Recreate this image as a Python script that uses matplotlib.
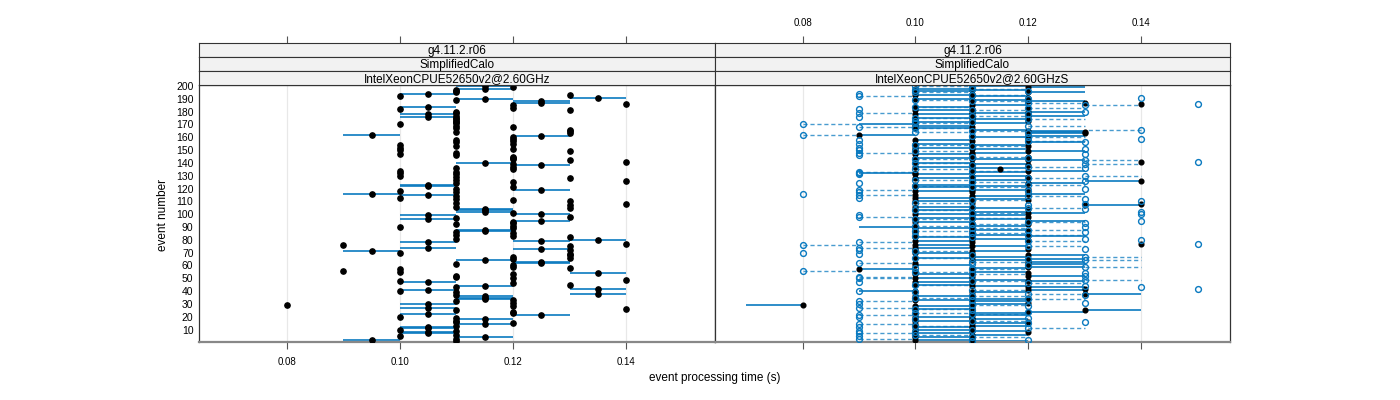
import numpy as np
import matplotlib
matplotlib.use("Agg")
from matplotlib import pyplot as plt

plt.rcParams['font.family'] = ['Liberation Sans', 'DejaVu Sans']

# strip labels (lattice style, outer to inner)
strip_top = ["g4.11.2.r06", "g4.11.2.r06"]
strip_mid = ["SimplifiedCalo", "SimplifiedCalo"]
strip_low = ["IntelXeonCPUE52650v2@2.60GHz", "IntelXeonCPUE52650v2@2.60GHzS"]

x_ticks = [0.08, 0.10, 0.12, 0.14]
y_ticks = list(range(10, 201, 10))

events = np.arange(1, 201)

# left panel: min / max event time per event (ms), events 1..200
left_lo = [110, 90, 110, 110, 100, 110, 100, 100, 110, 100,
           100, 100, 110, 110, 120, 110, 110, 110, 110, 100,
           120, 100, 120, 120, 110, 140, 100, 120, 80, 100,
           120, 110, 120, 110, 110, 110, 110, 130, 110, 100,
           100, 130, 110, 110, 130, 120, 100, 100, 140, 120,
           110, 110, 120, 130, 100, 90, 100, 130, 120, 120,
           110, 120, 120, 110, 120, 130, 120, 130, 130, 100,
           90, 130, 120, 100, 130, 90, 140, 100, 120, 130,
           110, 130, 120, 110, 120, 110, 110, 110, 120, 100,
           120, 110, 120, 120, 120, 100, 110, 130, 100, 120,
           120, 110, 110, 110, 130, 110, 130, 140, 110, 130,
           120, 110, 100, 110, 100, 90, 110, 100, 120, 110,
           120, 100, 100, 110, 120, 140, 110, 130, 110, 100,
           110, 100, 110, 100, 120, 110, 120, 120, 120, 110,
           140, 130, 120, 120, 120, 110, 100, 110, 130, 100,
           120, 100, 110, 100, 120, 110, 120, 110, 120, 120,
           120, 90, 130, 110, 130, 130, 110, 120, 110, 100,
           110, 110, 110, 110, 110, 100, 110, 100, 110, 110,
           130, 100, 120, 100, 120, 140, 120, 120, 110, 110,
           130, 100, 130, 100, 110, 110, 110, 110, 120, 110]
left_hi = [110, 100, 110, 120, 100, 110, 110, 110, 110, 100,
           110, 110, 110, 120, 120, 110, 110, 120, 110, 100,
           130, 110, 120, 120, 110, 140, 110, 120, 80, 110,
           120, 110, 120, 120, 120, 120, 110, 140, 110, 100,
           110, 140, 110, 120, 130, 120, 110, 100, 140, 120,
           110, 110, 120, 140, 100, 90, 100, 130, 120, 120,
           110, 130, 130, 120, 120, 130, 120, 130, 130, 100,
           100, 130, 130, 110, 130, 90, 140, 110, 130, 140,
           110, 130, 120, 110, 120, 110, 120, 120, 120, 100,
           120, 110, 120, 120, 130, 110, 110, 130, 110, 130,
           120, 120, 120, 120, 130, 110, 130, 140, 110, 130,
           120, 110, 100, 110, 110, 100, 110, 100, 130, 110,
           120, 110, 110, 110, 120, 140, 110, 130, 110, 100,
           110, 100, 110, 100, 120, 110, 120, 130, 120, 120,
           140, 130, 120, 120, 120, 110, 100, 110, 130, 100,
           120, 100, 110, 100, 120, 110, 120, 110, 120, 120,
           130, 100, 130, 110, 130, 130, 110, 120, 110, 100,
           110, 110, 110, 110, 110, 110, 110, 110, 110, 110,
           130, 100, 120, 110, 120, 140, 130, 130, 110, 120,
           140, 100, 130, 110, 110, 110, 110, 120, 120, 120]

# right panel (ms): filled point + solid segment end, open point + dashed segment end
right_fill = [110, 100, 110, 100, 100, 110, 100, 120, 110, 100,
              110, 100, 110, 100, 110, 120, 100, 110, 110, 100,
              110, 100, 110, 120, 130, 100, 110, 100, 80, 110,
              120, 110, 100, 110, 120, 100, 110, 130, 110, 100,
              120, 130, 120, 110, 100, 110, 100, 120, 110, 100,
              110, 120, 100, 120, 110, 100, 90, 110, 120, 100,
              120, 100, 120, 110, 120, 100, 110, 120, 110, 100,
              110, 100, 120, 100, 110, 100, 140, 110, 100, 120,
              110, 100, 120, 110, 100, 110, 120, 110, 100, 100,
              110, 120, 110, 100, 120, 110, 100, 120, 110, 100,
              120, 110, 100, 120, 110, 100, 130, 140, 110, 100,
              120, 110, 100, 110, 100, 120, 110, 100, 110, 120,
              100, 110, 100, 120, 110, 140, 110, 100, 120, 110,
              100, 100, 110, 120, 115, 110, 100, 120, 110, 100,
              140, 120, 110, 100, 120, 110, 100, 110, 120, 100,
              110, 100, 120, 110, 100, 120, 110, 100, 120, 110,
              120, 90, 130, 130, 120, 110, 100, 110, 100, 100,
              110, 100, 120, 110, 100, 110, 120, 100, 110, 120,
              100, 110, 120, 100, 110, 140, 130, 120, 110, 100,
              120, 110, 100, 110, 120, 100, 110, 100, 120, 110]
right_fill_to = [120, 110, 110, 110, 100, 120, 110, 120, 120, 110,
                 110, 110, 120, 100, 120, 120, 110, 120, 110, 110,
                 120, 100, 120, 130, 140, 110, 110, 110, 70, 120,
                 120, 120, 110, 120, 120, 110, 110, 140, 120, 90,
                 130, 130, 130, 120, 110, 110, 110, 130, 120, 110,
                 110, 130, 110, 120, 120, 100, 100, 120, 130, 110,
                 130, 100, 130, 120, 130, 110, 120, 130, 110, 110,
                 120, 100, 120, 110, 120, 110, 140, 110, 110, 120,
                 120, 110, 130, 120, 100, 110, 120, 120, 110, 90,
                 120, 120, 110, 110, 130, 120, 110, 120, 120, 110,
                 130, 120, 110, 120, 120, 110, 140, 140, 110, 110,
                 120, 120, 110, 120, 100, 130, 110, 110, 120, 120,
                 110, 120, 110, 130, 110, 130, 120, 110, 120, 120,
                 110, 90, 120, 130, 115, 120, 110, 120, 120, 110,
                 140, 130, 120, 110, 120, 110, 110, 120, 130, 100,
                 120, 110, 120, 120, 110, 130, 110, 110, 120, 120,
                 130, 100, 120, 120, 130, 120, 110, 110, 110, 90,
                 120, 110, 120, 120, 110, 110, 130, 110, 120, 130,
                 110, 110, 120, 110, 120, 140, 130, 130, 120, 110,
                 120, 120, 110, 110, 130, 110, 120, 110, 130, 120]
right_open = [110, 120, 90, 110, 90, 100, 90, 100, 90, 110,
              120, 90, 100, 90, 120, 130, 110, 100, 120, 90,
              90, 110, 100, 120, 110, 100, 90, 120, 110, 90,
              130, 90, 110, 120, 100, 110, 130, 120, 100, 90,
              110, 150, 140, 130, 100, 120, 90, 110, 130, 90,
              90, 130, 110, 130, 100, 80, 110, 100, 130, 120,
              110, 90, 110, 130, 120, 100, 130, 110, 90, 80,
              100, 90, 130, 90, 120, 80, 150, 90, 120, 140,
              130, 110, 100, 120, 110, 130, 100, 120, 110, 130,
              100, 110, 130, 120, 140, 100, 110, 90, 90, 140,
              110, 140, 100, 130, 120, 110, 120, 130, 100, 140,
              110, 130, 90, 120, 90, 80, 90, 120, 90, 130,
              110, 100, 120, 90, 110, 130, 100, 120, 110, 130,
              90, 90, 90, 110, 100, 130, 120, 110, 130, 100,
              150, 130, 100, 120, 110, 90, 130, 90, 100, 90,
              130, 90, 110, 100, 90, 130, 120, 90, 140, 120,
              110, 80, 120, 100, 110, 140, 100, 90, 120, 80,
              100, 110, 100, 120, 100, 90, 110, 120, 90, 130,
              110, 90, 120, 100, 130, 150, 120, 110, 100, 120,
              140, 90, 110, 90, 100, 120, 100, 110, 110, 100]
right_open_to = [110, 120, 100, 120, 90, 110, 100, 100, 90, 110,
                 130, 90, 110, 100, 120, 130, 120, 100, 120, 90,
                 100, 120, 110, 120, 110, 110, 100, 120, 120, 90,
                 130, 100, 110, 130, 110, 120, 130, 130, 100, 90,
                 120, 150, 140, 130, 110, 130, 90, 120, 140, 100,
                 100, 130, 120, 130, 110, 90, 120, 100, 140, 120,
                 110, 100, 120, 140, 120, 110, 140, 110, 90, 80,
                 110, 90, 130, 100, 130, 90, 150, 100, 130, 140,
                 130, 110, 110, 130, 120, 130, 110, 130, 120, 130,
                 110, 120, 130, 130, 140, 110, 120, 100, 90, 140,
                 120, 140, 110, 130, 130, 110, 120, 130, 110, 140,
                 120, 130, 90, 130, 100, 80, 90, 120, 100, 130,
                 120, 110, 130, 90, 120, 130, 110, 130, 110, 140,
                 90, 90, 100, 120, 110, 130, 130, 110, 140, 110,
                 150, 140, 110, 120, 120, 90, 130, 100, 110, 90,
                 130, 90, 120, 110, 90, 130, 130, 90, 140, 130,
                 110, 90, 120, 110, 120, 130, 110, 100, 130, 90,
                 110, 110, 100, 130, 110, 90, 120, 120, 100, 130,
                 120, 90, 130, 110, 140, 150, 130, 120, 110, 120,
                 140, 100, 120, 90, 110, 120, 100, 120, 110, 110]

blue = '#0a7ac0'
grid_col = '#e8e8e8'
frame_col = '#333333'
strip_bg = '#f2f2f2'

fig = plt.figure(figsize=(14, 4), dpi=100)
W, H = 1400.0, 400.0

xlim = (0.0645, 0.1557)
ylim = (0.3, 200.8)

panel_x = [(199, 715), (715, 1230)]
plot_top, plot_bot = 85, 342
strip_h = 14

axes = []
for i, (x0, x1) in enumerate(panel_x):
    ax = fig.add_axes([x0 / W, 1 - plot_bot / H, (x1 - x0) / W, (plot_bot - plot_top) / H])
    ax.set_xlim(*xlim)
    ax.set_ylim(*ylim)
    for xv in x_ticks:
        ax.axvline(xv, color=grid_col, lw=0.9, zorder=0)
    ax.set_xticks(x_ticks)
    ax.tick_params(axis='x', direction='out', length=5, width=0.8, color='#555555',
                   labelsize=7, pad=6, labelbottom=(i == 0))
    if i == 0:
        ax.set_yticks(y_ticks)
        ax.tick_params(axis='y', length=0, labelsize=7.5, pad=4)
    else:
        ax.set_yticks([])
    for side in ['top', 'left', 'right']:
        ax.spines[side].set_color(frame_col)
        ax.spines[side].set_linewidth(0.9)
    ax.spines['bottom'].set_color('#888888')
    ax.spines['bottom'].set_linewidth(1.6)
    axes.append(ax)

    # strips
    for k, labels in enumerate([strip_top, strip_mid, strip_low]):
        sy0 = plot_top - (3 - k) * strip_h
        sax = fig.add_axes([x0 / W, 1 - (sy0 + strip_h) / H, (x1 - x0) / W, strip_h / H])
        sax.set_facecolor(strip_bg)
        sax.set_xlim(*xlim)
        sax.set_yticks([])
        for sp in sax.spines.values():
            sp.set_color(frame_col)
            sp.set_linewidth(0.8)
        sax.text(0.5, 0.45, labels[i], transform=sax.transAxes, ha='center', va='center',
                 fontsize=8.5)
        if k == 0:
            sax.xaxis.tick_top()
            sax.set_xticks(x_ticks)
            sax.set_xticklabels(["%.2f" % v for v in x_ticks])
            sax.tick_params(axis='x', direction='out', length=5, width=0.8, color='#555555',
                            labelsize=7, pad=6, labeltop=(i == 1), labelbottom=False,
                            bottom=False)
        else:
            sax.set_xticks([])

ax_l, ax_r = axes
ax_l.set_xticklabels(["%.2f" % v for v in x_ticks])

# left panel
lo = np.array(left_lo) / 1000.0
hi = np.array(left_hi) / 1000.0
ax_l.hlines(events, lo, hi, color=blue, lw=1.2, zorder=2)
ax_l.plot((lo + hi) / 2, events, 'o', color='black', ms=3.8, mec='black', zorder=3)

# right panel
f = np.array(right_fill) / 1000.0
ft = np.array(right_fill_to) / 1000.0
o = np.array(right_open) / 1000.0
ot = np.array(right_open_to) / 1000.0
ax_r.hlines(events, o, ot, color=blue, lw=1.0, linestyles=(0, (3, 2)), alpha=0.75, zorder=2)
ax_r.hlines(events, f, ft, color=blue, lw=1.2, zorder=2)
ax_r.plot(f, events, 'o', color='black', ms=3.4, zorder=3)
ax_r.plot(o, events, 'o', mfc='none', mec=blue, mew=1.0, ms=4.2, zorder=4)

fig.text(715 / W, 1 - 378 / H, "event processing time (s)", ha='center', va='center', fontsize=8.5)
fig.text(163 / W, 1 - 215 / H, "event number", ha='center', va='center', rotation=90, fontsize=8.5)

fig.savefig("out.png", dpi=100)
